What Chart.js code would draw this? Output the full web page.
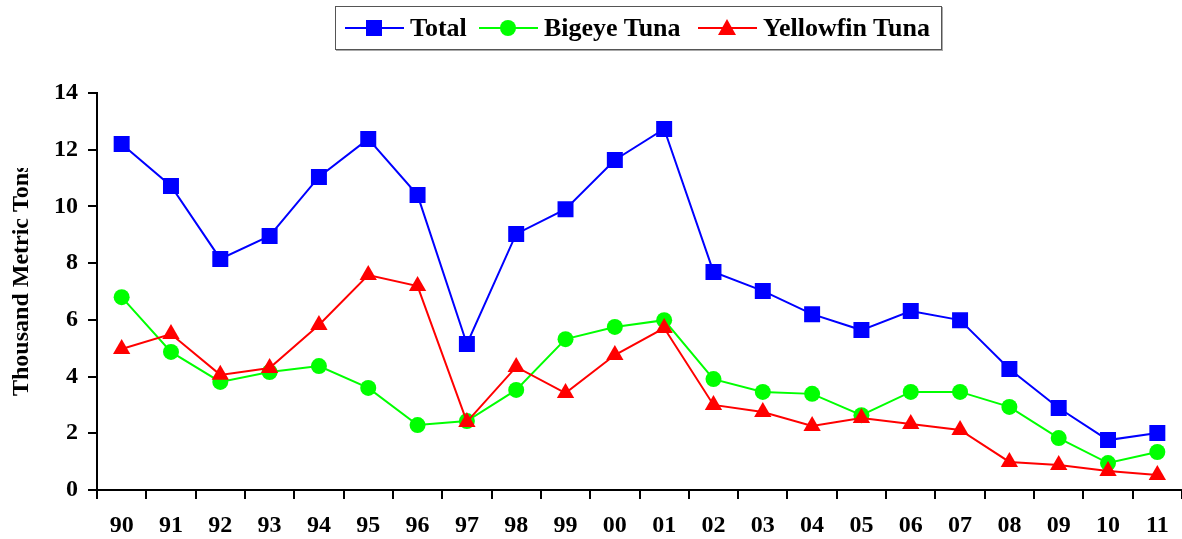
<!DOCTYPE html>
<html>
<head>
<meta charset="utf-8">
<script src="https://cdn.jsdelivr.net/npm/chart.js@4.4.1/dist/chart.umd.min.js"></script>
<style>
body{margin:0;background:#fff;}
#wrap{position:relative;width:1182px;height:539px;}
#legend{position:absolute;left:335px;top:6px;width:605px;height:42px;border:1px solid #555;box-shadow:1px 1px 0 #aaa;
  font:bold 26px "Liberation Serif",serif;color:#000;white-space:nowrap;}
#legend .item{position:absolute;top:0;height:42px;display:flex;align-items:center;}
#legend svg{display:block;margin-right:6px;}
</style>
</head>
<body>
<div id="wrap">
  <canvas id="tuna_chart" width="1182" height="539"></canvas>
  <div id="legend"></div>
</div>
<script>
const years = ['90','91','92','93','94','95','96','97','98','99','00','01','02','03','04','05','06','07','08','09','10','11'];
const total = [12.2,10.72,8.15,8.96,11.04,12.38,10.4,5.15,9.03,9.9,11.64,12.73,7.69,7.02,6.2,5.64,6.31,5.99,4.27,2.89,1.76,2.01];
const bigeye = [6.8,4.87,3.81,4.16,4.37,3.6,2.29,2.43,3.53,5.32,5.75,5.99,3.91,3.46,3.39,2.64,3.46,3.46,2.93,1.83,0.95,1.34];
const yellowfin = [4.97,5.5,4.06,4.3,5.82,7.58,7.19,2.4,4.34,3.42,4.76,5.71,3.0,2.75,2.26,2.54,2.33,2.12,0.99,0.88,0.67,0.53];
const yTicks = [0,2,4,6,8,10,12,14];
const yTitle = 'Thousand Metric Tons';

const FONT = '"Liberation Serif", serif';

// legend in html so it can get the box and line+marker swatches
const legendItems = [
    {label:'Total', color:'#0000ff', shape:'rect', left:9},
    {label:'Bigeye Tuna', color:'#00ff00', shape:'circle', left:143},
    {label:'Yellowfin Tuna', color:'#ff0000', shape:'triangle', left:362}
];
legendItems.forEach(it=>{
    let mark = '';
    if(it.shape==='rect') mark = `<rect x="21" y="6" width="16" height="16" fill="${it.color}"/>`;
    if(it.shape==='circle') mark = `<circle cx="29" cy="14" r="8" fill="${it.color}"/>`;
    if(it.shape==='triangle') mark = `<polygon points="29,5 38,21 20,21" fill="${it.color}"/>`;
    const el = document.createElement('div');
    el.className = 'item';
    el.style.left = it.left + 'px';
    el.innerHTML = `<svg width="59" height="28"><line x1="0" y1="14" x2="59" y2="14" stroke="${it.color}" stroke-width="2"/>${mark}</svg><span>${it.label}</span>`;
    document.getElementById('legend').appendChild(el);
});

// y title is cut off at the top in the original
const yTitlePlugin = {
    id: 'yTitle',
    afterDraw(chart){
        const ctx = chart.ctx;
        ctx.save();
        ctx.beginPath();
        ctx.rect(0, 168, 60, 371);
        ctx.clip();
        ctx.translate(22, 396);
        ctx.rotate(-Math.PI/2);
        ctx.font = 'bold 24px ' + FONT;
        ctx.fillStyle = '#000';
        ctx.textAlign = 'left';
        ctx.textBaseline = 'middle';
        ctx.fillText(yTitle, 0, 0);
        ctx.restore();
    }
};

const series = (label, data, color, style, radius) => ({
    label: label,
    data: data,
    borderColor: color,
    backgroundColor: color,
    borderWidth: 2,
    pointStyle: style,
    pointRadius: radius,
    pointHoverRadius: radius,
    pointBorderWidth: 0,
    tension: 0
});

new Chart(document.getElementById('tuna_chart'), {
    type: 'line',
    data: {
        labels: years,
        datasets: [
            series('Yellowfin Tuna', yellowfin, '#ff0000', 'triangle', 10),
            series('Bigeye Tuna', bigeye, '#00ff00', 'circle', 8),
            series('Total', total, '#0000ff', 'rect', 11.3)
        ]
    },
    plugins: [yTitlePlugin],
    options: {
        responsive: false,
        animation: false,
        layout: {autoPadding: false, padding: {top: 93, right: 0, left: 0, bottom: 0}},
        plugins: {
            legend: {display: false},
            tooltip: {enabled: false}
        },
        scales: {
            x: {
                offset: true,
                afterFit: (s)=>{ s.height = 49; },
                border: {color: '#000', width: 2},
                grid: {offset: true, drawOnChartArea: false, color: '#000', lineWidth: 2, tickLength: 9},
                ticks: {color: '#000', font: {family: FONT, size: 24, weight: 'bold'}, padding: 12, maxRotation: 0, autoSkip: false}
            },
            y: {
                min: 0,
                max: 14,
                afterFit: (s)=>{ s.width = 97; },
                afterBuildTicks: (s)=>{ s.ticks = yTicks.map(v=>({value: v})); },
                border: {color: '#000', width: 2},
                grid: {drawOnChartArea: false, color: '#000', lineWidth: 2, tickLength: 9},
                ticks: {color: '#000', font: {family: FONT, size: 24, weight: 'bold'}, padding: 10}
            }
        }
    }
});
</script>
</body>
</html>
